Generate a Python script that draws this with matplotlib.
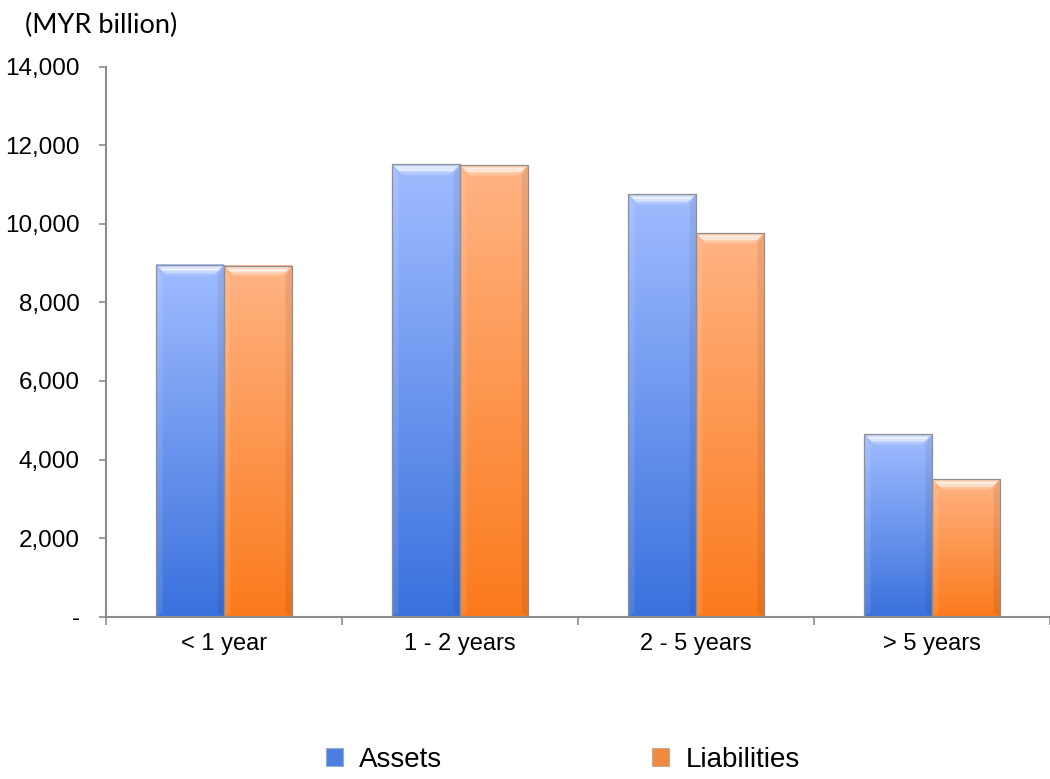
import numpy as np
import matplotlib
matplotlib.use("Agg")
import matplotlib.pyplot as plt
from matplotlib.colors import to_rgb
from matplotlib.patches import Rectangle, Polygon

categories = ["< 1 year", "1 - 2 years", "2 - 5 years", "> 5 years"]
assets = [8960, 11515, 10760, 4650]
liabilities = [8935, 11490, 9760, 3505]
series_names = ["Assets", "Liabilities"]
yticks = [0, 2000, 4000, 6000, 8000, 10000, 12000, 14000]
ytick_labels = ["-", "2,000", "4,000", "6,000", "8,000", "10,000", "12,000", "14,000"]
unit_label = "(MYR billion)"

asset_top, asset_bot = "#a0bcff", "#3a71dd"
liab_top, liab_bot = "#ffb383", "#fb7a1c"
axis_gray = "#8c8c8c"

fig = plt.figure(figsize=(10.5, 7.79), dpi=100)
ax = fig.add_axes([0.101, 0.2083, 0.899, 0.7061])

x = np.arange(len(categories))
w = 0.2875


def mix(c, t, f):
    c = np.array(to_rgb(c)); t = np.array(to_rgb(t))
    return tuple(c * (1 - f) + t * f)


def draw_bar(xc, h, ctop, cbot):
    x0, x1 = xc - w / 2, xc + w / 2
    n = 256
    top = np.array(to_rgb(ctop)); bot = np.array(to_rgb(cbot))
    t = np.linspace(0, 1, n)[:, None]
    grad = (top * (1 - t) + bot * t)[:, None, :]
    ax.imshow(grad, extent=(x0, x1, 0, h), aspect="auto", zorder=2,
              interpolation="bilinear")
    bx = 0.045
    by = 280
    # side bevels (subtle)
    ax.add_patch(Polygon([(x0, h), (x0 + bx * 0.6, h - by), (x0 + bx * 0.6, by * 0.4), (x0, 0)],
                         closed=True, facecolor="white", alpha=0.10,
                         edgecolor="none", zorder=3))
    ax.add_patch(Polygon([(x1, h), (x1 - bx * 0.6, h - by), (x1 - bx * 0.6, by * 0.4), (x1, 0)],
                         closed=True, facecolor="black", alpha=0.07,
                         edgecolor="none", zorder=3))
    # top bevel with graded highlight
    fr = [0.3, 0.55, 0.8, 0.85, 0.7, 0.45, 0.25, 0.1]
    k = len(fr)
    for j, f in enumerate(fr):
        a0, a1 = j / k, (j + 1) / k
        ax.add_patch(Polygon([(x0 + bx * a0, h - by * a0), (x1 - bx * a0, h - by * a0),
                              (x1 - bx * a1, h - by * a1), (x0 + bx * a1, h - by * a1)],
                             closed=True, facecolor=mix(ctop, "white", f),
                             edgecolor="none", zorder=3, antialiased=True))
    ax.add_patch(Rectangle((x0, 0), w, h, facecolor="none",
                           edgecolor="#8f8f8f", linewidth=0.9, zorder=4))


for i in range(len(categories)):
    draw_bar(x[i] - w / 2, assets[i], asset_top, asset_bot)
    draw_bar(x[i] + w / 2, liabilities[i], liab_top, liab_bot)

ax.set_xlim(-0.5, len(categories) - 0.5)
ax.set_ylim(0, 14000)

for s in ["top", "right"]:
    ax.spines[s].set_visible(False)
for s in ["left", "bottom"]:
    ax.spines[s].set_color(axis_gray)
    ax.spines[s].set_linewidth(1.5)
    ax.spines[s].set_zorder(5)

ax.set_yticks(yticks)
ax.set_yticklabels(ytick_labels, fontfamily="Liberation Sans", fontsize=17.5)
ax.tick_params(axis="y", length=5, width=1.2, color=axis_gray, pad=14)

ax.set_xticks(np.arange(len(categories) + 1) - 0.5)
ax.set_xticklabels([])
ax.tick_params(axis="x", which="major", length=6, width=1.2, color=axis_gray)
ax.set_xticks(x, minor=True)
ax.set_xticklabels(categories, minor=True, fontfamily="Liberation Sans", fontsize=17)
ax.tick_params(axis="x", which="minor", length=0, pad=12)

fig.text(0.024, 0.967, unit_label, fontfamily="Lato", fontsize=19.5, va="center", ha="left")

handles = [Rectangle((0, 0), 1, 1, facecolor="#4a7ee0", edgecolor="#9aa9c8", linewidth=0.8),
           Rectangle((0, 0), 1, 1, facecolor="#f08a3e", edgecolor="#c8a890", linewidth=0.8)]
fig.legend(handles, series_names, loc="center", bbox_to_anchor=(0.536, 0.025), ncol=2,
           frameon=False, prop={"family": "Liberation Sans", "size": 20},
           handlelength=0.6, handleheight=0.6, handletextpad=0.6, columnspacing=7.55)

fig.savefig("out.png", dpi=100)
